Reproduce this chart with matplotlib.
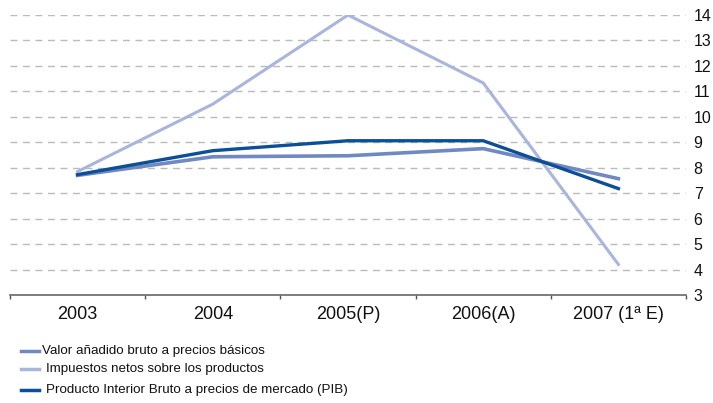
import matplotlib
matplotlib.use("Agg")
import matplotlib.pyplot as plt
from matplotlib.lines import Line2D

plt.rcParams['font.family'] = ['Liberation Sans', 'DejaVu Sans']

categories = ["2003", "2004", "2005(P)", "2006(A)", "2007 (1ª E)"]
valor_anadido = [7.7, 8.43, 8.47, 8.75, 7.57]
impuestos = [7.85, 10.5, 14.0, 11.33, 4.2]
pib = [7.73, 8.67, 9.06, 9.06, 7.18]
series_names = ["Valor añadido bruto a precios básicos",
                "Impuestos netos sobre los productos",
                "Producto Interior Bruto a precios de mercado (PIB)"]
colors = ["#7189C3", "#A9B5DD", "#0B4F96"]
yticks = list(range(3, 15))

W, H = 713, 403
fig = plt.figure(figsize=(W / 100, H / 100), dpi=100)
ax = fig.add_axes([10 / W, 1 - 295 / H, (686 - 10) / W, (295 - 15) / H])

x = list(range(len(categories)))
ax.plot(x, impuestos, color=colors[1], lw=2.2, zorder=3)
ax.plot(x, valor_anadido, color=colors[0], lw=2.6, zorder=4)
ax.plot(x, pib, color=colors[2], lw=2.4, zorder=5)

ax.set_xlim(-0.5, len(categories) - 0.5)
ax.set_ylim(3, 14)
ax.set_yticks(yticks)
ax.set_yticklabels([str(t) for t in yticks], fontsize=11.5, color="#111111")
ax.yaxis.tick_right()
ax.tick_params(axis="y", length=0, pad=5.5)
for t in yticks[1:]:
    ax.axhline(t, color="#BBBBBB", lw=1.0, ls=(0, (5, 4)), zorder=1)

ax.set_xticks([i - 0.5 for i in range(len(categories) + 1)])
ax.set_xticklabels([])
ax.set_xticks(x, minor=True)
ax.set_xticklabels(categories, minor=True, fontsize=13, color="#111111")
ax.tick_params(axis="x", which="major", length=3, color="#555555", width=1)
ax.tick_params(axis="x", which="minor", length=0, pad=8)

for s in ["top", "left", "right"]:
    ax.spines[s].set_visible(False)
ax.spines["bottom"].set_color("#666666")
ax.spines["bottom"].set_linewidth(1.2)

legend_y = [351, 369, 390]
text_x = [42.5, 46, 46]
for name, c, yy, tx in zip(series_names, colors, legend_y, text_x):
    yf = 1 - yy / H
    fig.add_artist(Line2D([21 / W, 39 / W], [yf, yf], color=c, lw=2.5))
    fig.text(tx / W, yf, name, fontsize=9.6, va="center", ha="left", color="#111111")

fig.savefig("out.png", dpi=100)
